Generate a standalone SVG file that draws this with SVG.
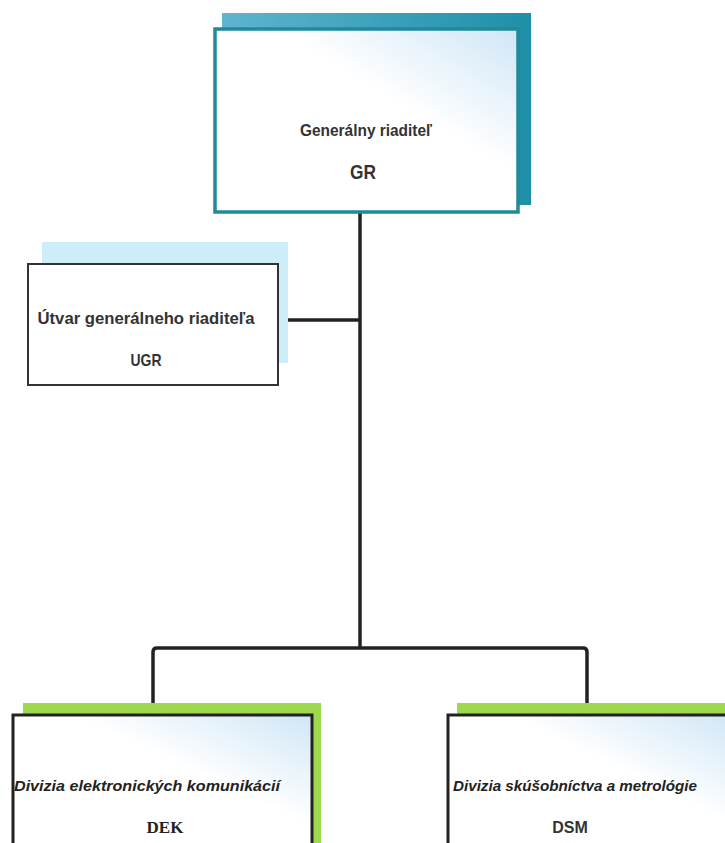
<svg xmlns="http://www.w3.org/2000/svg" width="725" height="843" viewBox="0 0 725 843">
<defs>
<linearGradient id="boxfill" x1="0" y1="1" x2="1" y2="0">
<stop offset="0" stop-color="#ffffff"/>
<stop offset="0.6" stop-color="#ffffff"/>
<stop offset="1" stop-color="#cfe6f6"/>
</linearGradient>
<linearGradient id="tealsh" x1="0" y1="0" x2="1" y2="0">
<stop offset="0" stop-color="#5fb4d0"/>
<stop offset="1" stop-color="#1f8fa8"/>
</linearGradient>
</defs>
<style>
.t{font-family:"Liberation Sans",Arial,sans-serif;font-weight:bold;fill:#333;text-anchor:middle}
.ti{font-family:"Liberation Sans",Arial,sans-serif;font-weight:bold;font-style:italic;fill:#222}
.ln{fill:none;stroke:#222;stroke-width:3.5;stroke-linejoin:round}
</style>
<rect width="725" height="843" fill="#ffffff"/>
<g id="connectors">
<path class="ln" d="M360 212 V648"/>
<path class="ln" d="M278 320 H360"/>
<path class="ln" d="M153 715 V652 Q153 648 157 648 H583 Q587 648 587 652 V715"/>
</g>
<g id="GR">
<rect x="222" y="13" width="309" height="192" fill="url(#tealsh)"/>
<rect x="215" y="29" width="303" height="183" fill="url(#boxfill)" stroke="#1f8a9a" stroke-width="3.5"/>
<text class="t" x="366" y="136" font-size="16" textLength="132" lengthAdjust="spacingAndGlyphs">Generálny riaditeľ</text>
<text class="t" x="363" y="179" font-size="20" textLength="26" lengthAdjust="spacingAndGlyphs">GR</text>
</g>
<g id="UGR">
<rect x="42" y="242" width="246" height="121" fill="#cdeef8"/>
<rect x="28" y="264" width="250" height="121" fill="#ffffff" stroke="#333" stroke-width="2"/>
<text class="t" x="146" y="324" font-size="16" textLength="217" lengthAdjust="spacingAndGlyphs">Útvar generálneho riaditeľa</text>
<text class="t" x="146" y="366" font-size="17" textLength="31" lengthAdjust="spacingAndGlyphs">UGR</text>
</g>
<g id="DEK">
<rect x="23" y="703" width="298" height="140" fill="#9ed84c"/>
<rect x="13" y="715" width="299" height="140" fill="url(#boxfill)" stroke="#222" stroke-width="3"/>
<text class="ti" x="14" y="791" font-size="15" textLength="266" lengthAdjust="spacingAndGlyphs">Divizia elektronických komunikácií</text>
<text x="165" y="833" font-size="17" font-weight="bold" font-family="'Liberation Serif',serif" fill="#222" text-anchor="middle">DEK</text>
</g>
<g id="DSM">
<rect x="457" y="703" width="280" height="140" fill="#9ed84c"/>
<rect x="448" y="715" width="290" height="140" fill="url(#boxfill)" stroke="#222" stroke-width="3"/>
<text class="ti" x="453" y="791" font-size="15" textLength="244" lengthAdjust="spacingAndGlyphs">Divizia skúšobníctva a metrológie</text>
<text class="t" x="570" y="833" font-size="16" fill="#222">DSM</text>
</g>
</svg>
